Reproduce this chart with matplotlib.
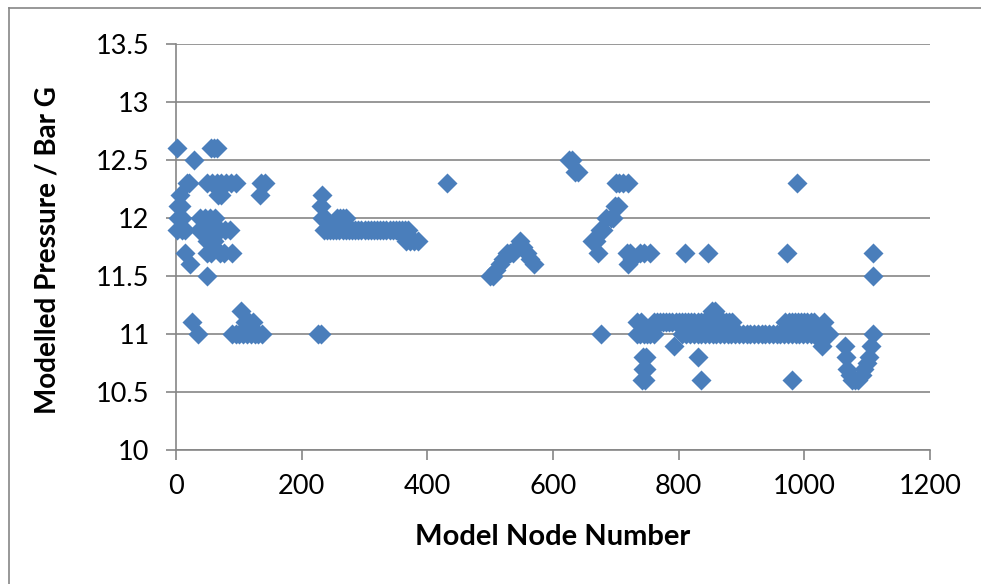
import matplotlib
matplotlib.use("Agg")
import matplotlib.pyplot as plt
from matplotlib.lines import Line2D

plt.rcParams['font.family'] = ['Lato', 'DejaVu Sans']

# node numbers / modelled pressures
x_start = [2, 55, 60, 65, 28, 17, 20, 50, 58, 65, 72, 80, 88, 95, 135, 141,
           6, 67, 72, 133, 3, 8, 3, 10, 38, 46, 54, 62, 2, 10, 14, 36, 42, 48,
           55, 62, 70, 78, 86, 49, 55, 60, 14, 49, 55, 70, 76, 89, 22, 49]
y_start = [12.6, 12.6, 12.6, 12.6, 12.5, 12.3, 12.3, 12.3, 12.3, 12.3, 12.3, 12.3, 12.3, 12.3, 12.3, 12.3,
           12.2, 12.2, 12.2, 12.2, 12.1, 12.1, 12.0, 12.0, 12.0, 12.0, 12.0, 12.0, 11.9, 11.9, 11.9, 11.9, 11.9, 11.9,
           11.9, 11.9, 11.9, 11.9, 11.9, 11.8, 11.8, 11.8, 11.7, 11.7, 11.7, 11.7, 11.7, 11.7, 11.6, 11.5]

x_start_low = [25, 35, 104, 110, 116, 122, 89, 95, 101, 107, 113, 119, 125, 131, 137, 226, 231]
y_start_low = [11.1, 11.0, 11.2, 11.1, 11.1, 11.1, 11.0, 11.0, 11.0, 11.0, 11.0, 11.0, 11.0, 11.0, 11.0, 11.0, 11.0]

x_mid = [232, 230, 232, 237, 257, 261, 266, 271,
         235, 240, 245, 250, 255, 260, 265, 270, 275, 280, 285, 290, 295, 300, 305, 310,
         315, 320, 325, 330, 335, 340, 345, 350, 355, 360, 365, 370,
         360, 366, 372, 378, 385, 431]
y_mid = [12.2, 12.1, 12.0, 12.0, 12.0, 12.0, 12.0, 12.0,
         11.9, 11.9, 11.9, 11.9, 11.9, 11.9, 11.9, 11.9, 11.9, 11.9, 11.9, 11.9, 11.9, 11.9, 11.9, 11.9,
         11.9, 11.9, 11.9, 11.9, 11.9, 11.9, 11.9, 11.9, 11.9, 11.9, 11.9, 11.9,
         11.85, 11.8, 11.8, 11.8, 11.8, 12.3]

x_dip = [500, 505, 510, 515, 520, 526, 531, 537, 542, 547, 552, 558, 563, 569]
y_dip = [11.5, 11.5, 11.55, 11.6, 11.65, 11.7, 11.7, 11.7, 11.75, 11.8, 11.75, 11.7, 11.65, 11.6]

x_peak = [626, 631, 635, 640, 700, 705, 712, 720, 698, 703, 685, 692, 696, 675, 680,
          662, 668, 672, 717, 722, 719, 725, 738, 745, 754, 810, 847, 973, 1109, 1109, 677, 988]
y_peak = [12.5, 12.5, 12.4, 12.4, 12.3, 12.3, 12.3, 12.3, 12.1, 12.1, 12.0, 12.0, 12.0, 11.9, 11.9,
          11.8, 11.8, 11.7, 11.7, 11.7, 11.6, 11.65, 11.7, 11.7, 11.7, 11.7, 11.7, 11.7, 11.7, 11.5, 11.0, 12.3]

x_low = [733, 740, 760, 765, 770, 775, 780, 785, 790, 795, 800, 805, 810, 815, 820, 825,
         830, 835, 840, 845, 850, 855, 860, 865, 870, 875, 880, 885,
         853, 858, 970, 975, 980, 985, 990, 995, 1000, 1005, 1010, 1015, 1032,
         733, 738, 745, 750, 755, 760, 806, 812, 818, 824, 830, 836, 842, 848, 854,
         860, 866, 872, 878, 884, 890, 896, 902, 908, 914, 920, 926, 932, 938, 944,
         950, 956, 962, 968, 974, 980, 986, 992, 998, 1004, 1010, 1016, 1022, 1028, 1034, 1040]
y_low = [11.1, 11.1, 11.1, 11.1, 11.1, 11.1, 11.1, 11.1, 11.1, 11.1, 11.1, 11.1, 11.1, 11.1, 11.1, 11.1,
         11.1, 11.1, 11.1, 11.1, 11.1, 11.1, 11.1, 11.1, 11.1, 11.1, 11.1, 11.1,
         11.2, 11.2, 11.1, 11.1, 11.1, 11.1, 11.1, 11.1, 11.1, 11.1, 11.1, 11.1, 11.1,
         11.0, 11.0, 11.0, 11.0, 11.0, 11.0, 11.0, 11.0, 11.0, 11.0, 11.0, 11.0, 11.0, 11.0, 11.0,
         11.0, 11.0, 11.0, 11.0, 11.0, 11.0, 11.0, 11.0, 11.0, 11.0, 11.0, 11.0, 11.0, 11.0, 11.0,
         11.0, 11.0, 11.0, 11.0, 11.0, 11.0, 11.0, 11.0, 11.0, 11.0, 11.0, 11.0, 11.0, 11.0, 11.0, 11.0]

x_tail = [743, 748, 743, 748, 741, 746, 792, 830, 836, 981, 1028, 1025,
          1064, 1066, 1068, 1072, 1076, 1081, 1086, 1091, 1095, 1099, 1103, 1106, 1110]
y_tail = [10.8, 10.8, 10.7, 10.7, 10.6, 10.6, 10.9, 10.8, 10.6, 10.6, 10.9, 10.95,
          10.9, 10.8, 10.7, 10.65, 10.6, 10.6, 10.6, 10.65, 10.7, 10.75, 10.8, 10.9, 11.0]

node = x_start + x_start_low + x_mid + x_dip + x_peak + x_low + x_tail
pressure = y_start + y_start_low + y_mid + y_dip + y_peak + y_low + y_tail

grey = '#868686'
fig = plt.figure(figsize=(9.81, 5.84), dpi=100)
ax = fig.add_axes([176/981, 134/584, 754/981, 406/584])

ax.scatter(node, pressure, marker='D', s=104, color='#4A7EBB', linewidths=0,
           zorder=3, clip_on=False)

ax.set_xlim(0, 1200)
ax.set_ylim(10, 13.5)
ax.set_xticks([0, 200, 400, 600, 800, 1000, 1200])
ax.set_yticks([10, 10.5, 11, 11.5, 12, 12.5, 13, 13.5])
ax.set_yticklabels(['10', '10.5', '11', '11.5', '12', '12.5', '13', '13.5'])
ax.grid(axis='y', color=grey, linewidth=1.2)
ax.set_axisbelow(True)
for s in ['top', 'right']:
    ax.spines[s].set_visible(False)
for s in ['left', 'bottom']:
    ax.spines[s].set_color(grey)
    ax.spines[s].set_linewidth(1.2)
ax.tick_params(direction='out', length=7, width=1.2, color=grey,
               labelsize=19.5, labelcolor='black')
ax.tick_params(axis='y', pad=12)
ax.tick_params(axis='x', pad=10)

fig.text(553/981, 1 - 537/584, 'Model Node Number', ha='center', va='center',
         fontsize=21, fontweight='bold')
fig.text(48/981, 1 - 250/584, 'Modelled Pressure / Bar G', ha='center', va='center',
         rotation=90, fontsize=20, fontweight='bold')

# chart frame, only its left and top edges are inside the picture
fig.add_artist(Line2D([9/981, 9/981], [0, 1 - 8/584], color=grey, linewidth=1.2))
fig.add_artist(Line2D([9/981, 1], [1 - 8/584, 1 - 8/584], color=grey, linewidth=1.2))

plt.savefig('out.png', dpi=100)
